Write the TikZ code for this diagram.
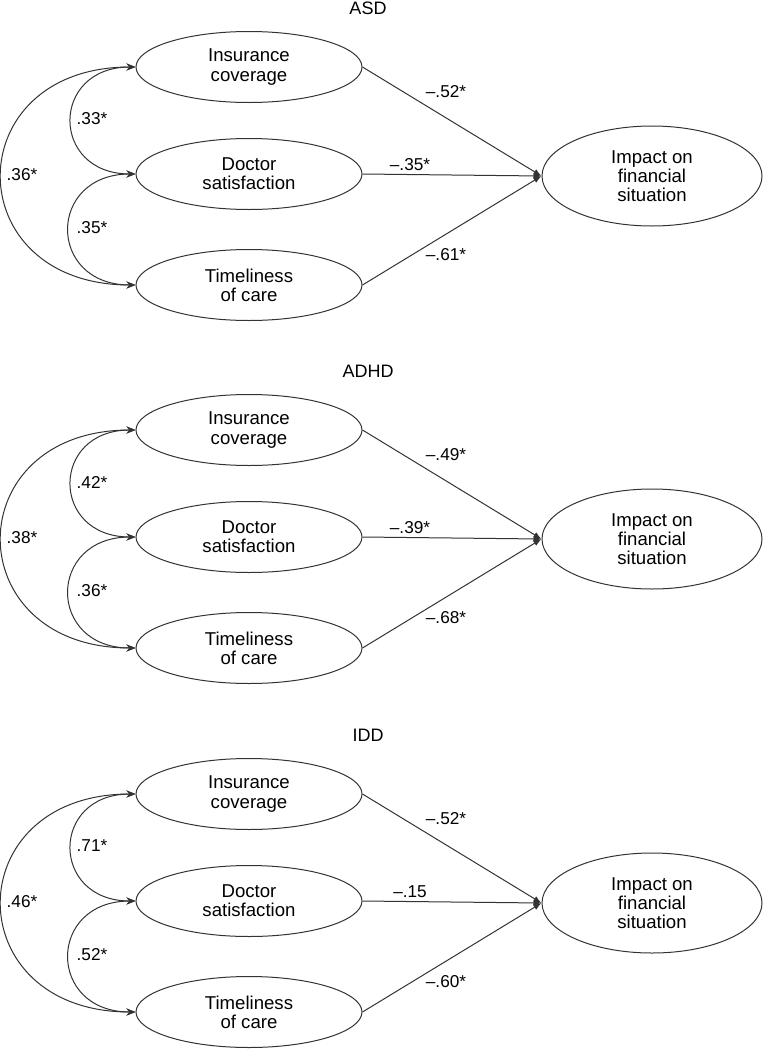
\documentclass[tikz,border=0pt]{standalone}
\usepackage{fontspec}
\setmainfont{Liberation Sans}
\usepackage{tikz}
\usetikzlibrary{shapes.geometric, arrows.meta}

% one path model: #1 y of top factor, #2 name suffix, #3 title,
% #4-#6 correlations, #7-#9 path weights
\newcommand{\pathpanel}[9]{%
        \node[paneltitle] (title#2) at (368,#1-59) {#3};

        \node[factor] (ins#2) at (249,#1) {Insurance\\coverage};
        \node[factor] (doc#2) at (249,#1+107) {Doctor\\satisfaction};
        \node[factor] (tim#2) at (249,#1+218) {Timeliness\\of care};
        \node[outcome] (imp#2) at (652,#1+109) {Impact on\\financial\\situation};

        \draw[corr] (ins#2.west) to[out=180, in=180, looseness=2.05] (doc#2.west);
        \draw[corr] (doc#2.west) to[out=180, in=180, looseness=2.05] (tim#2.west);
        \draw[corr] (ins#2.west) to[out=180, in=180, looseness=2.1] (tim#2.west);
        \node[coef] (rid#2) at (92,#1+52) {#4};
        \node[coef] (rdt#2) at (92,#1+161) {#5};
        \node[coef] (rit#2) at (22,#1+108) {#6};

        \draw[effect] (ins#2.east) -- (imp#2.west);
        \draw[effect] (doc#2.east) -- (imp#2.west);
        \draw[effect] (tim#2.east) -- (imp#2.west);
        \node[coef] (bi#2) at (446,#1+25) {#7};
        \node[coef] (bd#2) at (410,#1+98) {#8};
        \node[coef] (bt#2) at (446,#1+188) {#9};
}

\begin{document}
\begin{tikzpicture}[x=0.5pt, y=-0.5pt,
        factor/.style={draw=black!80, line width=0.5pt, ellipse, inner sep=0pt,
            minimum width=113pt, minimum height=35.5pt, align=center,
            font=\fontsize{9.3}{9.6}\selectfont},
        outcome/.style={factor, minimum width=110pt, minimum height=50pt},
        paneltitle/.style={font=\fontsize{9}{10}\selectfont},
        coef/.style={inner sep=0pt, font=\fontsize{8.6}{9}\selectfont},
        corr/.style={draw=black!80, line width=0.5pt,
            {Stealth[length=4.5pt, width=3.5pt]}-{Stealth[length=4.5pt, width=3.5pt]}},
        effect/.style={draw=black!80, line width=0.5pt, -{Latex[length=4pt, width=3pt]}}]

        \useasboundingbox (0,0) rectangle (767,1050);

        \pathpanel{67}{A}{ASD}{.33*}{.35*}{.36*}{--.52*}{--.35*}{--.61*}
        \pathpanel{430}{B}{ADHD}{.42*}{.36*}{.38*}{--.49*}{--.39*}{--.68*}
        \pathpanel{794}{C}{IDD}{.71*}{.52*}{.46*}{--.52*}{--.15}{--.60*}

\end{tikzpicture}
\end{document}
